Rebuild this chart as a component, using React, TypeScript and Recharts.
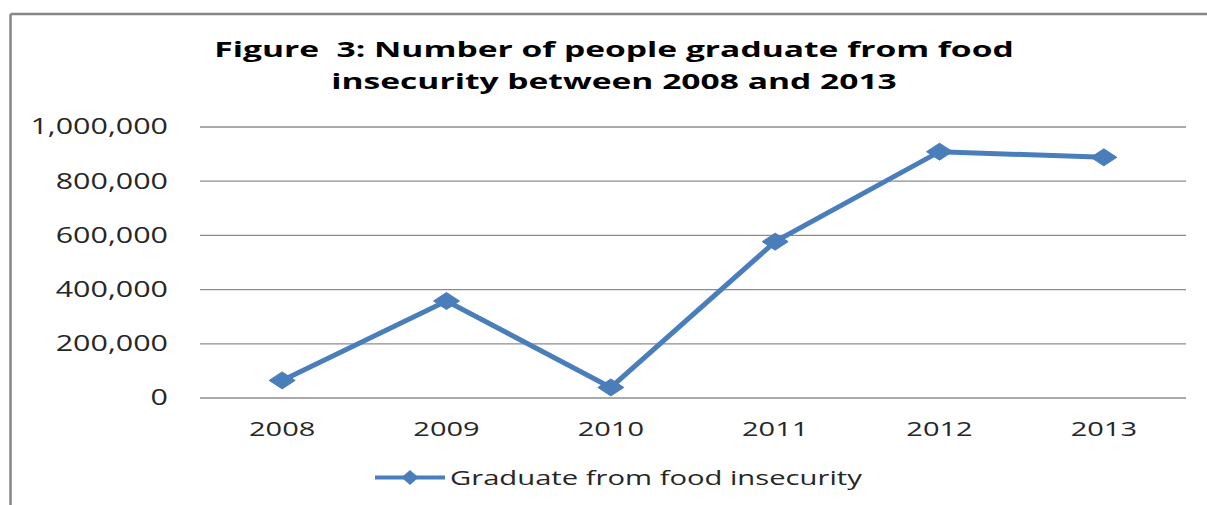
import React from 'react';
import { LineChart, Line, XAxis, YAxis, CartesianGrid } from 'recharts';

const categories = ['2008', '2009', '2010', '2011', '2012', '2013'];
const graduates = [65000, 358000, 39000, 577000, 909000, 888000];
const yTicks = [0, 200000, 400000, 600000, 800000, 1000000];
const seriesName = 'Graduate from food insecurity';
const titleLines = ['Figure  3: Number of people graduate from food', 'insecurity between 2008 and 2013'];

const data = categories.map((year, i) => ({ year, value: graduates[i] }));

const FONT = '"Open Sans", sans-serif';
const BLUE = '#4A7EBB';
const GRID = '#8c8c8c';
const SX = 1.45;

const fmt = (v: number) => v.toLocaleString('en-US');

const YTick = (props: any) => {
  const { x, y, payload } = props;
  return (
    <text
      transform={`translate(${x},${y}) scale(${SX},1)`}
      x={0}
      y={0}
      dy="0.355em"
      textAnchor="end"
      fontFamily={FONT}
      fontSize={21}
      fill="#262626"
    >
      {fmt(payload.value)}
    </text>
  );
};

const XTick = (props: any) => {
  const { x, y, payload } = props;
  return (
    <text
      transform={`translate(${x},${y}) scale(${SX},1)`}
      x={0}
      y={0}
      dy="0.71em"
      textAnchor="middle"
      fontFamily={FONT}
      fontSize={20}
      fill="#262626"
    >
      {payload.value}
    </text>
  );
};

const Diamond = (props: any) => {
  const { cx, cy, index } = props;
  if (cx == null || cy == null) return <g key={`d${index}`} />;
  const w = 13;
  const h = 8.5;
  return (
    <polygon
      key={`d${index}`}
      points={`${cx - w},${cy} ${cx},${cy - h} ${cx + w},${cy} ${cx},${cy + h}`}
      fill={BLUE}
      stroke={BLUE}
      strokeWidth={1}
    />
  );
};

export default function App() {
  return (
    <div style={{ position: 'absolute', left: 0, top: 0, width: 1207, height: 505, background: '#fff' }}>
      <LineChart
        width={1207}
        height={505}
        data={data}
        margin={{ top: 127, right: 21, bottom: 77, left: 0 }}
      >
        <CartesianGrid vertical={false} stroke={GRID} strokeWidth={1.3} />
        <XAxis
          dataKey="year"
          scale="band"
          axisLine={false}
          tickLine={false}
          tickMargin={18}
          height={30}
          tick={<XTick />}
          interval={0}
        />
        <YAxis
          domain={[0, 1000000]}
          ticks={yTicks}
          axisLine={false}
          tickLine={false}
          tickMargin={26}
          width={200}
          tick={<YTick />}
          interval={0}
        />
        <Line
          type="linear"
          dataKey="value"
          name={seriesName}
          stroke={BLUE}
          strokeWidth={5}
          dot={Diamond}
          activeDot={false}
          isAnimationActive={false}
        />
      </LineChart>
      <svg
        width={1207}
        height={505}
        style={{ position: 'absolute', left: 0, top: 0, pointerEvents: 'none' }}
      >
        <line x1={10.5} y1={14} x2={10.5} y2={505} stroke="#868686" strokeWidth={2.5} />
        <line x1={10.5} y1={14} x2={1207} y2={14} stroke="#868686" strokeWidth={2.5} />
        {titleLines.map((t, i) => (
          <text
            key={i}
            transform={`translate(614,${57 + i * 32}) scale(1.6,1)`}
            x={0}
            y={0}
            textAnchor="middle"
            fontFamily={FONT}
            fontWeight={700}
            fontSize={21}
            fill="#000"
            style={{ whiteSpace: 'pre' }}
          >
            {t}
          </text>
        ))}
        <line x1={375} y1={477.5} x2={445} y2={477.5} stroke={BLUE} strokeWidth={4} />
        <polygon points="401.5,477.5 410,470 418.5,477.5 410,485" fill={BLUE} />
        <text
          transform={`translate(450,485) scale(1.46,1)`}
          x={0}
          y={0}
          fontFamily={FONT}
          fontSize={20}
          fill="#262626"
        >
          {seriesName}
        </text>
      </svg>
    </div>
  );
}
